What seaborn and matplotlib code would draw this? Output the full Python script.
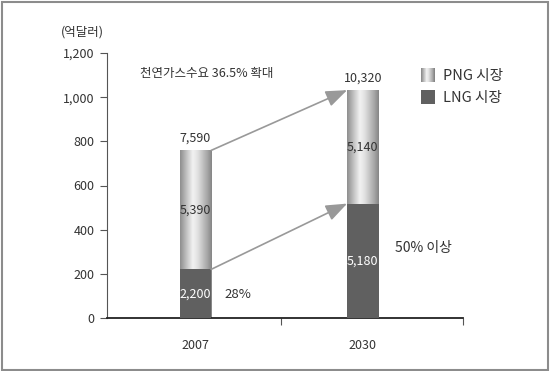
import numpy as np
import pandas as pd
import seaborn as sns
import matplotlib.pyplot as plt
from matplotlib.colors import LinearSegmentedColormap
from matplotlib.patches import Rectangle
from matplotlib.legend_handler import HandlerBase
from matplotlib.ticker import FuncFormatter, FixedLocator

# data (labels in the chart; axis reads in units of 10)
years = ['2007', '2030']
lng = [2200, 5180]
png = [5390, 5140]
totals = [7590, 10320]
notes = ['28%', '50% 이상']

sns.set_style('white')
plt.rcParams['font.family'] = ['Noto Sans CJK KR', 'DejaVu Sans']

text_col = '#333333'
lng_col = '#606060'
grad = LinearSegmentedColormap.from_list(
    'metal', [(0.0, '#8e8e8e'), (0.15, '#b4b4b4'), (0.4, '#f2f2f2'),
              (0.55, '#e2e2e2'), (0.85, '#a8a8a8'), (1.0, '#858585')])

df = pd.DataFrame({'year': years, 'LNG': lng, 'PNG': png, 'total': totals})

fig = plt.figure(figsize=(5.5, 3.71), dpi=100)
ax = fig.add_axes([0.1945, 0.143, 0.647, 0.714])

w = 0.188
sns.barplot(data=df, x='year', y='total', color='#bbbbbb', width=w, ax=ax,
            saturation=1, edgecolor='none')
sns.barplot(data=df, x='year', y='LNG', color=lng_col, width=w, ax=ax,
            saturation=1, edgecolor='none')

# metallic gradient on the PNG (total) bars
gimg = np.linspace(0, 1, 200).reshape(1, -1)
for p in ax.patches[:2]:
    x0, y0 = p.get_x(), p.get_y()
    im = ax.imshow(gimg, cmap=grad, aspect='auto', interpolation='bilinear',
                   extent=[x0, x0 + p.get_width(), y0, y0 + p.get_height()],
                   zorder=p.get_zorder())
    im.set_clip_path(p)
    p.set_facecolor('none')
for p in ax.patches[2:]:
    p.set_zorder(3)

ax.set_xlim(-0.528, 1.597)
ax.set_ylim(0, 12000)
ax.yaxis.set_major_locator(FixedLocator(np.arange(0, 12001, 2000)))
ax.yaxis.set_major_formatter(FuncFormatter(lambda v, _: f'{v / 10:,.0f}'))
ax.set_xlabel('')
ax.set_ylabel('')
ax.tick_params(axis='y', left=True, length=5, width=0.8, color='#555555',
               labelsize=9, labelcolor=text_col, pad=4)
ax.tick_params(axis='x', bottom=False, labelsize=9, labelcolor=text_col, pad=12)
ax.set_xticks([0.51, 1.597], minor=True)
ax.tick_params(axis='x', which='minor', bottom=True, length=5, width=0.8,
               color='#555555')
sns.despine(ax=ax)
ax.spines['left'].set_color('#555555')
ax.spines['left'].set_linewidth(0.8)
ax.spines['bottom'].set_color('#222222')
ax.spines['bottom'].set_linewidth(1.3)

fs = 9
for i in range(len(years)):
    ax.text(i, totals[i] + 550, f'{totals[i]:,}', ha='center', va='center',
            fontsize=fs, color=text_col)
    ax.text(i, lng[i] + png[i] / 2, f'{png[i]:,}',
            ha='center', va='center', fontsize=fs, color=text_col, zorder=5)
    ax.text(i, lng[i] / 2, f'{lng[i]:,}', ha='center', va='center',
            fontsize=fs, color='white', zorder=5)

ax.text(0.176, 1080, notes[0], ha='left', va='center', fontsize=9.5, color=text_col)
ax.text(1.19, 3170, notes[1], ha='left', va='center', fontsize=10, color=text_col)
ax.text(0.07, 11090, '천연가스수요 36.5% 확대', ha='center', va='center',
        fontsize=fs, color=text_col)
fig.text(0.149, 0.913, '(억달러)', ha='center', va='center', fontsize=fs,
         color=text_col)

arrow = dict(arrowstyle='-|>,head_length=1.3,head_width=0.5', color='#999999',
             lw=1.2, shrinkA=0, shrinkB=0)
ax.annotate('', xy=(1 - w / 2, totals[1]), xytext=(w / 2, totals[0]),
            arrowprops=arrow, zorder=6)
ax.annotate('', xy=(1 - w / 2, lng[1]), xytext=(w / 2, lng[0]),
            arrowprops=arrow, zorder=6)


class GradHandler(HandlerBase):
    def create_artists(self, legend, orig, xd, yd, width, height, fontsize, trans):
        n = 14
        size = 14 * 72 / 100
        out = []
        for k in range(n):
            out.append(Rectangle((xd + size * k / n, yd - (size - height) / 2),
                                 size / n + 0.3, size, facecolor=grad(k / (n - 1)),
                                 edgecolor='none', transform=trans))
        return out


class SolidHandler(HandlerBase):
    def create_artists(self, legend, orig, xd, yd, width, height, fontsize, trans):
        size = 14 * 72 / 100
        return [Rectangle((xd, yd - (size - height) / 2), size, size,
                          facecolor=lng_col, edgecolor='none', transform=trans)]


h_png = Rectangle((0, 0), 1, 1)
h_lng = Rectangle((0, 0), 1, 1)
leg = ax.legend([h_png, h_lng], ['PNG 시장', 'LNG 시장'],
                handler_map={h_png: GradHandler(), h_lng: SolidHandler()},
                loc='upper left', bbox_to_anchor=(0.866, 0.96), frameon=False,
                fontsize=10.5, labelcolor=text_col, handlelength=1.0,
                handletextpad=0.5, labelspacing=0.5, borderaxespad=0)
for t in leg.get_texts():
    t.set_color(text_col)

fig.patches.append(Rectangle((0.003, 0.004), 0.993, 0.99, transform=fig.transFigure,
                             fill=False, edgecolor='#8c8c8c', lw=1.5))

fig.savefig('out.png', dpi=100)
